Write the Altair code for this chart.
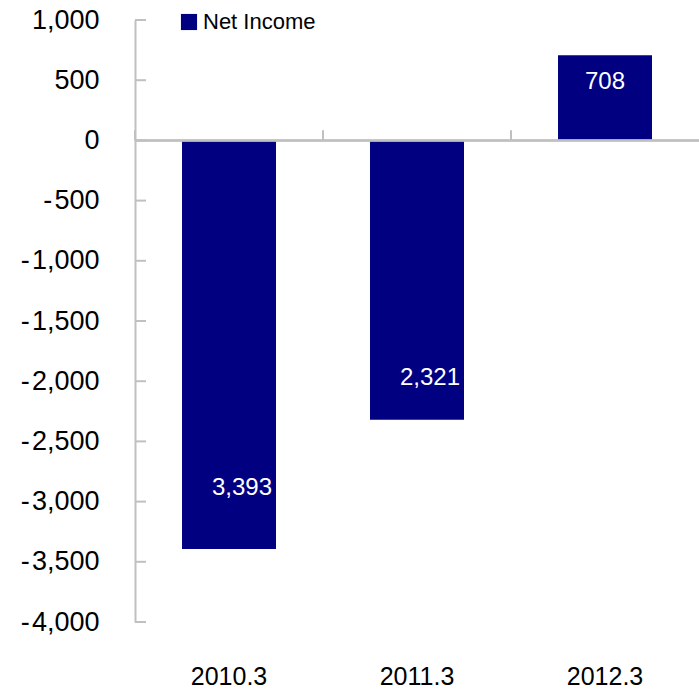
import altair as alt
import pandas as pd

categories = ["2010.3", "2011.3", "2012.3"]
values = [-3393, -2321, 708]
bar_labels = ["3,393", "2,321", "708"]
series_name = "Net Income"
y_ticks = [-4000, -3500, -3000, -2500, -2000, -1500, -1000, -500, 0, 500, 1000]

df = pd.DataFrame({"cat": categories, "value": values, "label": bar_labels, "series": series_name})
ticks_df = pd.DataFrame({"t": y_ticks})

W, H = 564, 602
FONT = "Liberation Sans"
GRAY = "#c0c0c0"
NAVY = "#000080"

xscale = alt.Scale(domain=categories, paddingInner=0.5, paddingOuter=0.25)
yscale = alt.Scale(domain=[-4000, 1000], nice=False, zero=False)

bars = alt.Chart(df).mark_bar().encode(
    x=alt.X("cat:N", scale=xscale, sort=categories,
            axis=alt.Axis(title=None, domain=False, ticks=False, labelAngle=0,
                          labelFontSize=25, labelFont=FONT, labelColor="#000000",
                          labelPadding=42, labelBaseline="top")),
    y=alt.Y("value:Q", scale=yscale,
            axis=alt.Axis(title=None, values=y_ticks, grid=False, ticks=False,
                          domainColor=GRAY, domainWidth=2,
                          labelFontSize=27, labelFont=FONT, labelColor="#000000",
                          labelPadding=36,
                          labelExpr="datum.value < 0 ? '-\u200a' + format(-datum.value, ',') : format(datum.value, ',')")),
    color=alt.Color("series:N", scale=alt.Scale(range=[NAVY]),
                    legend=alt.Legend(title=None, orient="none", legendX=43, legendY=-9,
                                      symbolType="square", symbolSize=260, symbolStrokeWidth=0,
                                      labelFontSize=22, labelFont=FONT, labelColor="#000000",
                                      labelOffset=3, padding=0)),
)

zero_line = alt.Chart(df).mark_rule(color=GRAY, strokeWidth=2).encode(
    y=alt.datum(0, scale=yscale)
)

x_ticks = alt.Chart(df).mark_rule(color=GRAY, strokeWidth=2, xOffset=-47).encode(
    x=alt.X("cat:N", scale=xscale, sort=categories, bandPosition=0),
    y=alt.datum(0),
    y2=alt.datum(85),
)

y_tick_marks = alt.Chart(ticks_df).mark_rule(color=GRAY, strokeWidth=2).encode(
    y=alt.Y("t:Q", scale=yscale),
    x=alt.value(0),
    x2=alt.value(11),
)

base_text = alt.Chart(df).transform_calculate(
    pos="datum.value * (datum.value < 0 ? 0.85 : 0.69)"
)

texts_neg = base_text.transform_filter("datum.value < 0").mark_text(
    color="white", fontSize=24, font=FONT, baseline="middle", dx=13
).encode(
    x=alt.X("cat:N", scale=xscale, sort=categories),
    y=alt.Y("pos:Q", scale=yscale),
    text="label:N",
)

texts_pos = base_text.transform_filter("datum.value >= 0").mark_text(
    color="white", fontSize=24, font=FONT, baseline="middle"
).encode(
    x=alt.X("cat:N", scale=xscale, sort=categories),
    y=alt.Y("pos:Q", scale=yscale),
    text="label:N",
)

chart = alt.layer(bars, zero_line, x_ticks, y_tick_marks, texts_neg, texts_pos).properties(
    width=W, height=H,
    autosize=alt.AutoSizeParams(type="none"),
    padding={"left": 135, "top": 20, "right": 0, "bottom": 68},
    background="white",
).configure_view(stroke=None)

chart.save("out.html", embed_options={"renderer": "svg", "actions": False})
